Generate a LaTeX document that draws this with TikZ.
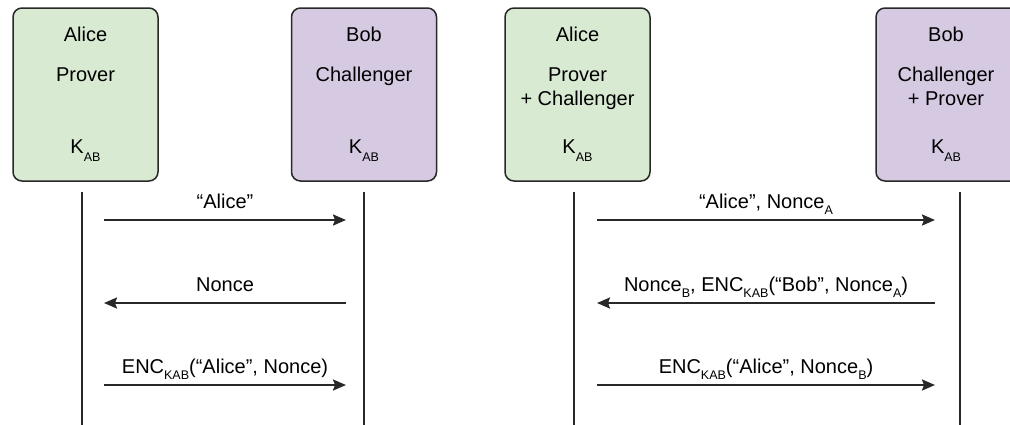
\documentclass[tikz,border=0pt]{standalone}
\usepackage{fontspec}
\setmainfont{Liberation Sans}
\usepackage{xcolor}
\usetikzlibrary{positioning}
\usetikzlibrary{arrows.meta}

\definecolor{provergreen}{RGB}{217,234,211}
\definecolor{challpurple}{RGB}{214,201,226}
\definecolor{linegray}{RGB}{40,40,40}

% small, low subscript
\newcommand{\subtxt}[2][6pt]{\raisebox{-#1}{\fontsize{12.5}{13}\selectfont #2}}

\begin{document}
\begin{tikzpicture}[x=1pt, y=-1pt,
  party/.style = {draw = linegray, line width = 1.5pt, rounded corners = 9pt,
    minimum width = 145pt, minimum height = 173pt, inner sep = 0pt},
  lbl/.style = {font = \fontsize{20}{24}\selectfont, inner sep = 0pt, anchor = base},
  life/.style = {draw = linegray, line width = 2.6pt},
  msg/.style = {draw = linegray, line width = 2.2pt,
    -{Stealth[length = 13pt, width = 11pt, inset = 2pt]}},
  msglbl/.style = {lbl, midway, yshift = 12pt}
]
\clip (0,0) rectangle (1010,424);

% the four parties
\node[party, fill = provergreen] (alice1) at (85.5,94.5) {};
\node[party, fill = challpurple] (bob1) at (364,94.5) {};
\node[party, fill = provergreen] (alice2) at (577.5,94.5) {};
\node[party, fill = challpurple] (bob2) at (948.5,94.5) {};

\node[lbl] (a1name) at (85.5,41) {Alice};
\node[lbl] (a1role) at (85.5,81) {Prover};
\node[lbl] (a1key) at (85.5,153) {K\subtxt[8pt]{AB}};

\node[lbl] (b1name) at (364,41) {Bob};
\node[lbl] (b1role) at (364,81) {Challenger};
\node[lbl] (b1key) at (364,153) {K\subtxt[8pt]{AB}};

\node[lbl] (a2name) at (577.5,41) {Alice};
\node[lbl] (a2role) at (577.5,81) {Prover};
\node[lbl] (a2extra) at (577.5,105) {+ Challenger};
\node[lbl] (a2key) at (577.5,153) {K\subtxt[8pt]{AB}};

\node[lbl] (b2name) at (946,41) {Bob};
\node[lbl] (b2role) at (946,81) {Challenger};
\node[lbl] (b2extra) at (946,105) {+ Prover};
\node[lbl] (b2key) at (946,153) {K\subtxt[8pt]{AB}};

% lifelines
\coordinate (la1) at (82,192);  \coordinate (la1end) at (82,430);
\coordinate (lb1) at (364,192); \coordinate (lb1end) at (364,430);
\coordinate (la2) at (574,192); \coordinate (la2end) at (574,430);
\coordinate (lb2) at (960,192); \coordinate (lb2end) at (960,430);
\draw[life] (la1) -- (la1end);
\draw[life] (lb1) -- (lb1end);
\draw[life] (la2) -- (la2end);
\draw[life] (lb2) -- (lb2end);

% one-way protocol
\coordinate (m1a) at (104,220); \coordinate (m1b) at (346,220);
\coordinate (m2a) at (104,303); \coordinate (m2b) at (346,303);
\coordinate (m3a) at (104,385); \coordinate (m3b) at (346,385);
\draw[msg] (m1a) -- (m1b) node[msglbl] {“Alice”};
\draw[msg] (m2b) -- (m2a) node[msglbl] {Nonce};
\draw[msg] (m3a) -- (m3b) node[msglbl] {ENC\subtxt{KAB}(“Alice”, Nonce)};

% mutual protocol
\coordinate (n1a) at (597,220); \coordinate (n1b) at (935,220);
\coordinate (n2a) at (597,303); \coordinate (n2b) at (935,303);
\coordinate (n3a) at (597,385); \coordinate (n3b) at (935,385);
\draw[msg] (n1a) -- (n1b) node[msglbl] {“Alice”, Nonce\subtxt{A}};
\draw[msg] (n2b) -- (n2a) node[msglbl] {Nonce\subtxt{B}, ENC\subtxt{KAB}(“Bob”, Nonce\subtxt{A})};
\draw[msg] (n3a) -- (n3b) node[msglbl] {ENC\subtxt{KAB}(“Alice”, Nonce\subtxt{B})};
\end{tikzpicture}
\end{document}
